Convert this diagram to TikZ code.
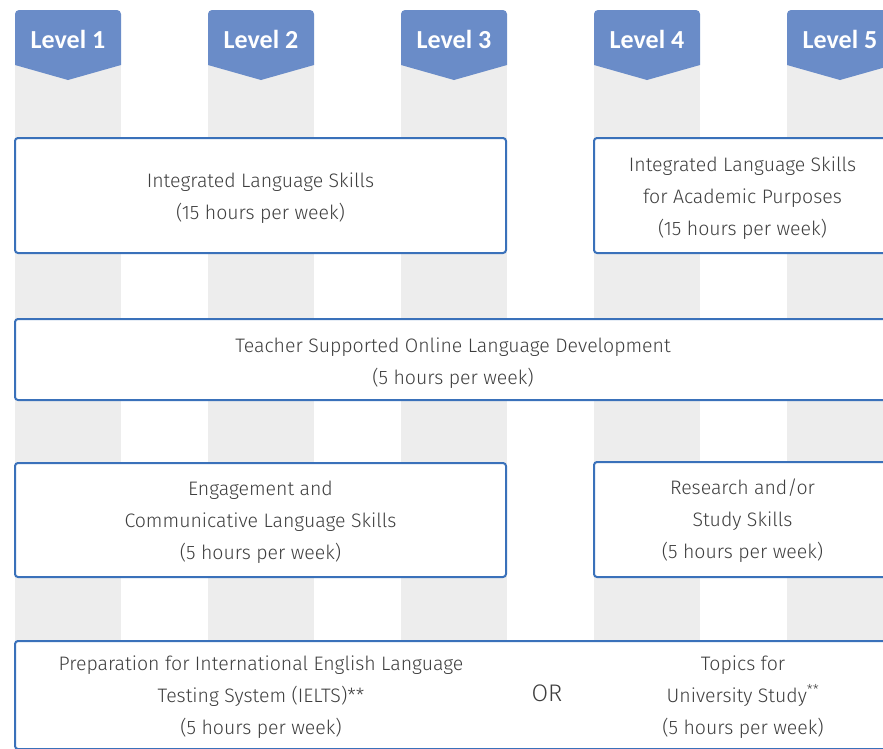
\documentclass[tikz,border=0pt]{standalone}
\usepackage{fontspec}
\newfontfamily\bodyfont{Fira Sans Light}
\newfontfamily\headfont{Carlito}
\definecolor{hdblue}{RGB}{106,140,200}
\definecolor{boxblue}{RGB}{58,113,186}
\definecolor{colgray}{RGB}{237,237,237}
\definecolor{txtgray}{RGB}{62,62,62}
\begin{document}
\begin{tikzpicture}[x=1pt,y=-1pt,
  box/.style={draw=boxblue, line width=2pt, fill=white, rounded corners=3pt, inner sep=0pt},
  txt/.style={align=center, font=\bodyfont\fontsize{19.5}{32}\selectfont, text=txtgray, inner sep=0pt},
  lvl/.style={font=\headfont\bfseries\fontsize{26}{30}\selectfont, text=white}]
\useasboundingbox (0,0) rectangle (883,748);
\clip (0,0) rectangle (883,748);
\foreach \x in {15,208,401,594,787} {
  \fill[colgray] (\x,60) rectangle ++(106,700);
  \fill[hdblue, rounded corners=4pt] (\x,40) -- (\x,10) -- (\x+106,10) -- (\x+106,40)
     [sharp corners] -- (\x+106,65) -- (\x+53,80) -- (\x,65) -- cycle;
}
\node[lvl] (L1) at (68,39) {Level 1};
\node[lvl] (L2) at (261,39) {Level 2};
\node[lvl] (L3) at (454,39) {Level 3};
\node[lvl] (L4) at (647,39) {Level 4};
\node[lvl] (L5) at (840,39) {Level 5};

\node[box, minimum width=491pt, minimum height=115pt] (b1) at (260.5,195.5) {};
\node[txt] (t1) at ([yshift=-3pt]b1.center) {Integrated Language Skills\\(15 hours per week)};
\node[box, minimum width=297pt, minimum height=115pt] (b2) at (742.5,195.5) {};
\node[txt] (t2) at ([yshift=-3pt]b2.center) {Integrated Language Skills\\for Academic Purposes\\(15 hours per week)};
\node[box, minimum width=876pt, minimum height=81pt] (b3) at (453,359.5) {};
\node[txt] (t3) at ([yshift=-3.5pt]b3.center) {Teacher Supported Online Language Development\\(5 hours per week)};
\node[box, minimum width=491pt, minimum height=114pt] (b4) at (260.5,520) {};
\node[txt] (t4) at ([yshift=-2.5pt]b4.center) {Engagement and\\Communicative Language Skills\\(5 hours per week)};
\node[box, minimum width=297pt, minimum height=115pt] (b5) at (742.5,519.5) {};
\node[txt] (t5) at ([yshift=-1pt]b5.center) {Research and/or\\Study Skills\\(5 hours per week)};
\node[box, minimum width=876pt, minimum height=108pt] (b6) at (453,695) {};
\node[txt] (t6a) at (261,697)
  {Preparation for International English Language\\Testing System (IELTS)**\\(5 hours per week)};
\node[txt, font=\bodyfont\fontsize{24}{28}\selectfont] (or) at (547,693) {OR};
\node[txt] (t6b) at (743,697)
  {Topics for\\University Study\textsuperscript{**}\\(5 hours per week)};
\end{tikzpicture}
\end{document}
